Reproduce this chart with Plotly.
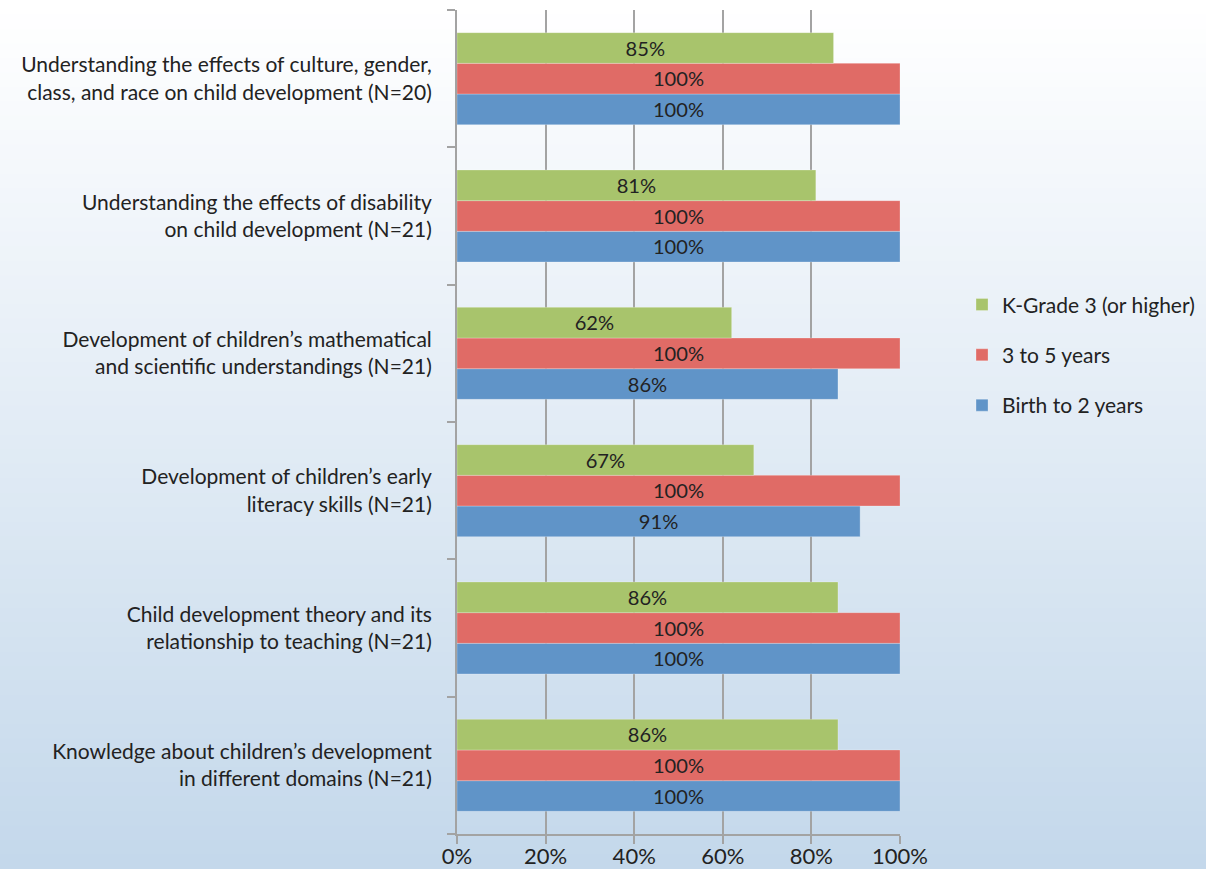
import plotly.graph_objects as go

categories = [
    "Knowledge about children’s development<br>in different domains (N=21)",
    "Child development theory and its<br>relationship to teaching (N=21)",
    "Development of children’s early<br>literacy skills (N=21)",
    "Development of children’s mathematical<br>and scientific understandings (N=21)",
    "Understanding the effects of disability<br>on child development (N=21)",
    "Understanding the effects of culture, gender,<br>class, and race on child development (N=20)",
]
birth_to_2 = [100, 100, 91, 86, 100, 100]
three_to_5 = [100, 100, 100, 100, 100, 100]
k_grade3 = [86, 86, 67, 62, 81, 85]

series = [
    ("Birth to 2 years", birth_to_2, "#6094c8", 3),
    ("3 to 5 years", three_to_5, "#e06b66", 2),
    ("K-Grade 3 (or higher)", k_grade3, "#a8c46c", 1),
]

FONT = "Lato, 'Noto Sans', sans-serif"
FS = 21
FS_NUM = 22

fig = go.Figure()
for name, vals, col, rank in series:
    fig.add_trace(go.Bar(
        y=categories, x=vals, name=name, orientation="h",
        marker=dict(color=col, line=dict(color="rgba(255,255,255,0.5)", width=0.5)),
        text=[f"{v}%" for v in vals], textposition="inside",
        insidetextanchor="middle", textangle=0,
        textfont=dict(color="#222222", size=FS_NUM, family=FONT),
        legendgroup=name, legendrank=rank,
    ))

# vertical gradient background (decoration)
shapes = []
n = 60
top = (255, 255, 255)
bot = (196, 216, 235)
for k in range(n):
    t = k / (n - 1)
    c = tuple(int(round(top[j] + (bot[j] - top[j]) * t)) for j in range(3))
    ya = 1 + 10 / 824 - (k) * (869 / 824) / n
    yb = 1 + 10 / 824 - (k + 1) * (869 / 824) / n
    shapes.append(dict(type="rect", xref="paper", yref="paper",
                       x0=-457 / 443, x1=1 + 306 / 443, y0=yb - 0.002, y1=ya,
                       fillcolor=f"rgb{c}", line=dict(width=0), layer="below"))

fig.update_layout(
    width=1206, height=869,
    margin=dict(l=457, r=306, t=10, b=35, autoexpand=False),
    paper_bgcolor="#ffffff", plot_bgcolor="rgba(0,0,0,0)",
    barmode="group", bargap=0.33, bargroupgap=0,
    font=dict(family=FONT, size=FS, color="#222222"),
    shapes=shapes,
    showlegend=True,
    legend=dict(x=1.14, y=0.667, xanchor="left", yanchor="top",
                traceorder="grouped", tracegroupgap=20,
                bgcolor="rgba(0,0,0,0)", font=dict(size=FS, family=FONT),
                itemwidth=30),
    uniformtext=dict(minsize=10, mode="show"),
)
fig.update_xaxes(range=[0, 100], tickvals=[0, 20, 40, 60, 80, 100],
                 ticktext=["0%", "20%", "40%", "60%", "80%", "100%"],
                 showgrid=True, gridcolor="#a3a3a3", gridwidth=2,
                 showline=True, linecolor="#a3a3a3", linewidth=2,
                 ticks="outside", ticklen=8, tickcolor="#a3a3a3", tickwidth=2,
                 zeroline=False, tickfont=dict(size=FS_NUM), automargin=False,
                 ticklabelstandoff=-6)
fig.update_yaxes(showline=True, linecolor="#a3a3a3", linewidth=2,
                 ticks="outside", tickson="boundaries", ticklen=8,
                 tickcolor="#a3a3a3", tickwidth=2, showgrid=False,
                 ticklabelstandoff=19, tickfont=dict(size=FS), automargin=False)

fig.write_html("out.html", config={"displayModeBar": False},
               post_script="document.body.style.margin='0';document.body.style.padding='0';")
